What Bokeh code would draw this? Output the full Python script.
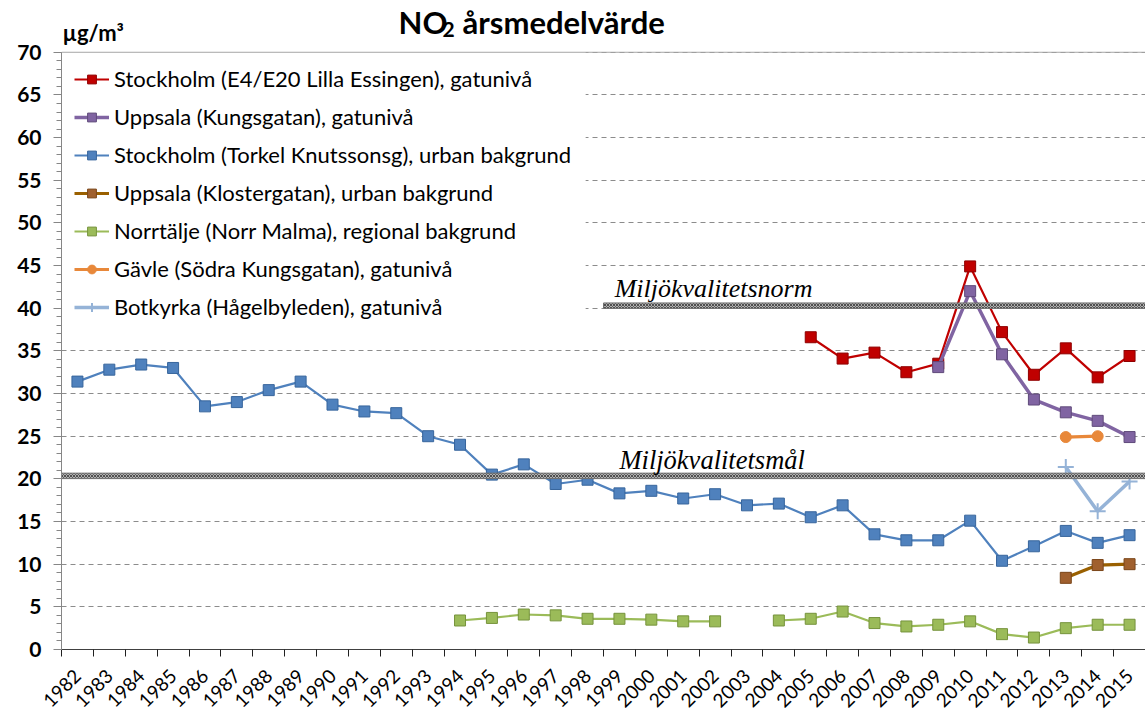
import math
from bokeh.plotting import figure
from bokeh.models import (FixedTicker, SingleIntervalTicker, Legend, LegendItem,
                          Label, Range1d, BoxAnnotation, Span)
from bokeh.embed import file_html
from bokeh.resources import INLINE

nan = float("nan")
years = list(range(1982, 2016))

stockholm_e4 = [nan] * 23 + [36.6, 34.1, 34.8, 32.5, 33.5, 44.9, 37.2, 32.2, 35.3, 31.9, 34.4]
uppsala_kungsgatan = [nan] * 27 + [33.1, 42.0, 34.6, 29.3, 27.8, 26.8, 24.9]
stockholm_torkel = [31.4, 32.8, 33.4, 33.0, 28.5, 29.0, 30.4, 31.4, 28.7, 27.9, 27.7, 25.0,
                    24.0, 20.5, 21.7, 19.4, 19.9, 18.3, 18.6, 17.7, 18.2, 16.9, 17.1, 15.5,
                    16.9, 13.5, 12.8, 12.8, 15.1, 10.4, 12.1, 13.9, 12.5, 13.4]
uppsala_klostergatan = [nan] * 31 + [8.4, 9.9, 10.0]
norrtalje = [nan] * 12 + [3.4, 3.7, 4.1, 4.0, 3.6, 3.6, 3.5, 3.3, 3.3, nan,
                          3.4, 3.6, 4.45, 3.1, 2.7, 2.9, 3.3, 1.8, 1.4, 2.5, 2.9, 2.9]
gavle = [nan] * 31 + [24.9, 25.0, nan]
botkyrka = [nan] * 31 + [21.4, 16.2, 19.7]

y_max = 70
norm_value = 40.3
mal_value = 20.35
norm_start = 1998.5

labels = [
    "Stockholm (E4/E20 Lilla Essingen), gatunivå",
    "Uppsala (Kungsgatan), gatunivå",
    "Stockholm (Torkel Knutssonsg), urban bakgrund",
    "Uppsala (Klostergatan), urban bakgrund",
    "Norrtälje (Norr Malma), regional bakgrund",
    "Gävle (Södra Kungsgatan), gatunivå",
    "Botkyrka (Hågelbyleden), gatunivå",
]

FONT = "Lato"
X0, X1 = 1981.5, 2015.5          # category edges
YTOP = y_max + 48 / 8.571        # room for the title inside the frame

p = figure(width=1145, height=716, output_backend="svg", toolbar_location=None,
           x_range=Range1d(X0, X1), y_range=Range1d(0, YTOP),
           min_border_left=61, min_border_right=0, min_border_top=4, min_border_bottom=64)
p.background_fill_color = "white"
p.border_fill_color = "white"
p.outline_line_color = None

# axes
p.yaxis.bounds = (0, y_max)
p.yaxis.ticker = SingleIntervalTicker(interval=5, num_minor_ticks=5)
p.yaxis.axis_line_color = "#868686"
p.yaxis.major_tick_line_color = "#868686"
p.yaxis.minor_tick_line_color = "#868686"
p.yaxis.major_tick_in = 0
p.yaxis.major_tick_out = 8
p.yaxis.minor_tick_in = 0
p.yaxis.minor_tick_out = 5
p.yaxis.major_label_text_font = FONT
p.yaxis.major_label_text_font_style = "bold"
p.yaxis.major_label_text_font_size = "21px"
p.yaxis.major_label_text_color = "black"
p.yaxis.major_label_standoff = 12

p.xaxis.ticker = FixedTicker(ticks=years, minor_ticks=[y - 0.5 for y in years] + [X1])
p.xaxis.major_tick_line_color = None
p.xaxis.major_tick_out = 0
p.xaxis.major_tick_in = 0
p.xaxis.minor_tick_line_color = "#202020"
p.xaxis.minor_tick_in = 0
p.xaxis.minor_tick_out = 7
p.xaxis.axis_line_color = "#404040"
p.xaxis.major_label_orientation = math.pi / 4
p.xaxis.major_label_text_font = FONT
p.xaxis.major_label_text_font_size = "19px"
p.xaxis.major_label_text_color = "black"
p.xaxis.major_label_standoff = 16

p.xgrid.grid_line_color = None
p.ygrid.grid_line_color = "#8c8c8c"
p.ygrid.grid_line_dash = "5 4"
p.ygrid.grid_line_width = 1

# white backdrop hiding the grid behind the legend
p.add_layout(BoxAnnotation(left=X0, right=1997.94, bottom=38.5, top=y_max + 0.1,
                           fill_color="white", fill_alpha=1.0, line_color=None,
                           level="underlay"))
# solid top border of the plot area
p.add_layout(Span(location=y_max, dimension="width", line_color="#a6a6a6", line_width=1,
                  level="underlay"))

def series(vals, line_color, line_width, marker, fill, edge, size, marker_lw=1):
    lr = p.line(years, vals, line_color=line_color, line_width=line_width)
    sr = p.scatter(years, vals, marker=marker, size=size, fill_color=fill,
                   line_color=edge, line_width=marker_lw)
    return [lr, sr]

r_blue = series(stockholm_torkel, "#4F81BD", 2.2, "square", "#4F81BD", "#37659c", 11)
r_green = series(norrtalje, "#9BBB59", 2.2, "square", "#9BBB59", "#76933c", 11)
r_brown = series(uppsala_klostergatan, "#9A6000", 3.2, "square", "#A0602E", "#7a4518", 11)
r_red = series(stockholm_e4, "#C00000", 2.2, "square", "#C00000", "#8f0000", 11)
r_purple = series(uppsala_kungsgatan, "#8064A2", 3.5, "square", "#8064A2", "#5f4a7a", 11)
r_orange = series(gavle, "#E8883A", 3.2, "circle", "#E8883A", "#E8883A", 11)
r_lblue = series(botkyrka, "#95B3D7", 3.5, "cross", "#95B3D7", "#95B3D7", 16, 2)

# reference lines (hatched band look)
for left, val in ((norm_start, norm_value), (X0, mal_value)):
    p.quad(left=[left], right=[X1], bottom=[val - 0.32], top=[val + 0.32],
           fill_color="#b0b0b0", line_color="#707070", line_width=1,
           hatch_pattern="diagonal_cross", hatch_color="#505050", hatch_scale=3,
           hatch_weight=1)

p.add_layout(Label(x=1998.85, y=42.35, text="Miljökvalitetsnorm", text_font="Liberation Serif",
                   text_font_style="italic", text_font_size="26px", text_color="black",
                   text_baseline="alphabetic"))
p.add_layout(Label(x=1999.0, y=22.2, text="Miljökvalitetsmål", text_font="Liberation Serif",
                   text_font_style="italic", text_font_size="26.5px", text_color="black",
                   text_baseline="alphabetic"))

# title and unit
p.add_layout(Label(x=1992.07, y=73.55, text="NO", text_font=FONT, text_font_style="bold",
                   text_font_size="31px", text_color="black", text_baseline="alphabetic"))
p.add_layout(Label(x=1993.45, y=72.7, text="2", text_font=FONT, text_font_style="bold",
                   text_font_size="21px", text_color="black", text_baseline="alphabetic"))
p.add_layout(Label(x=1994.08, y=73.55, text="årsmedelvärde", text_font=FONT,
                   text_font_style="bold", text_font_size="31px", text_color="black",
                   text_baseline="alphabetic"))
p.add_layout(Label(x=X0 + 0.03, y=72.3, text="µg/m³", text_font=FONT, text_font_style="bold",
                   text_font_size="22px", text_color="black", text_baseline="alphabetic"))

legend = Legend(items=[
    LegendItem(label=labels[0], renderers=r_red),
    LegendItem(label=labels[1], renderers=r_purple),
    LegendItem(label=labels[2], renderers=r_blue),
    LegendItem(label=labels[3], renderers=r_brown),
    LegendItem(label=labels[4], renderers=r_green),
    LegendItem(label=labels[5], renderers=r_orange),
    LegendItem(label=labels[6], renderers=r_lblue),
], location=(13, 329))
legend.label_text_font = FONT
legend.label_text_font_size = "22px"
legend.label_text_color = "black"
legend.glyph_width = 35
legend.glyph_height = 22
legend.label_height = 22
legend.spacing = 11
legend.padding = 0
legend.margin = 0
legend.label_standoff = 5
legend.border_line_color = None
legend.background_fill_alpha = 0.0
p.add_layout(legend)

open("out.html", "w").write(file_html(p, INLINE))
